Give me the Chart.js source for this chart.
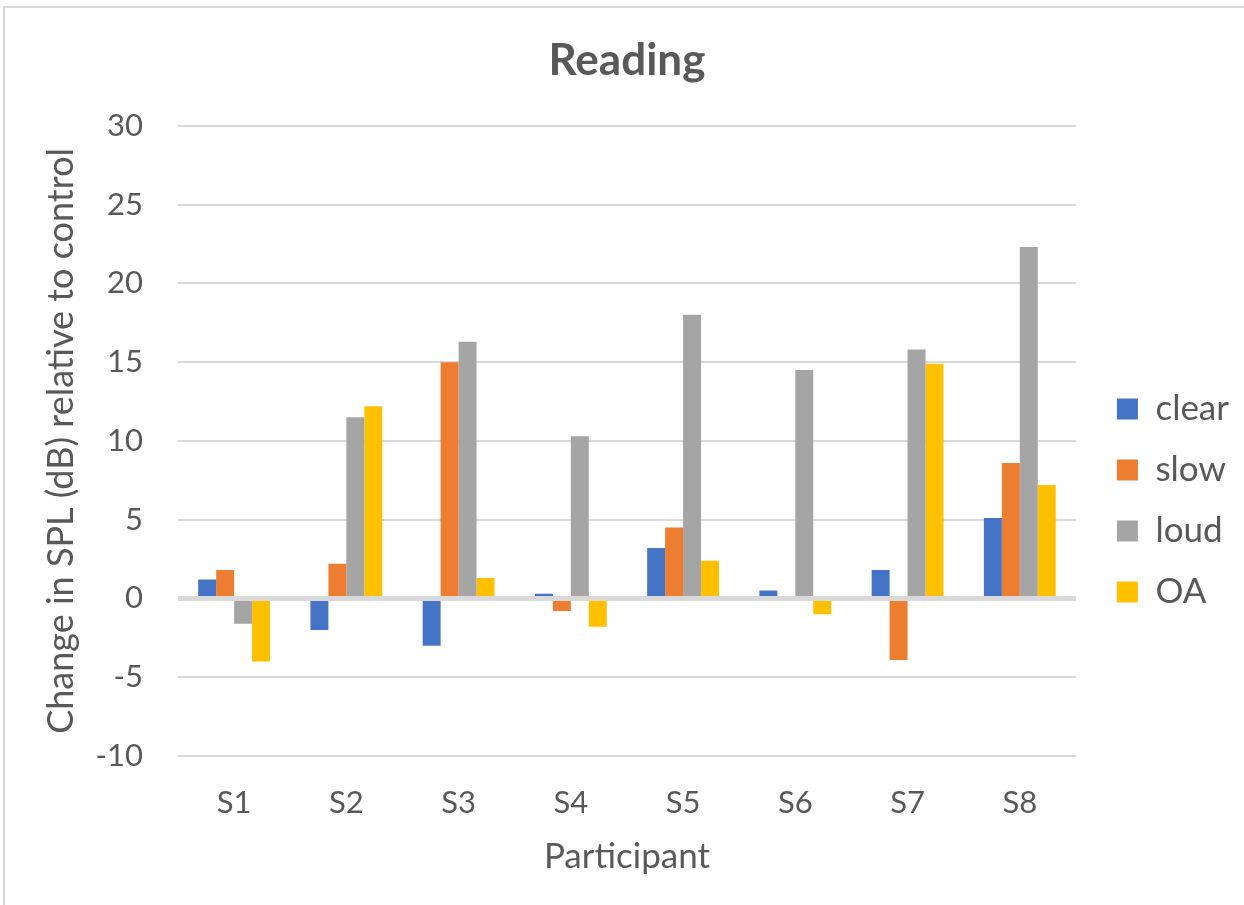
<!DOCTYPE html>
<html>
<head>
<meta charset="utf-8">
<script src="https://cdn.jsdelivr.net/npm/chart.js@4.4.1/dist/chart.umd.min.js"></script>
<style>
  html, body { margin: 0; padding: 0; background: #fff; }
  #wrap { width: 1244px; height: 905px; }
</style>
</head>
<body>
<div id="wrap"><canvas id="readingChart" width="1244" height="905"></canvas></div>
<script>
// Data
const participants = ["S1", "S2", "S3", "S4", "S5", "S6", "S7", "S8"];
const clear = [1.2, -2.0, -3.0, 0.3, 3.2, 0.5, 1.8, 5.1];
const slow = [1.8, 2.2, 15.0, -0.8, 4.5, 0, -3.9, 8.6];
const loud = [-1.6, 11.5, 16.3, 10.3, 18.0, 14.5, 15.8, 22.3];
const oa = [-4.0, 12.2, 1.3, -1.8, 2.4, -1.0, 14.9, 7.2];
const yTicks = [-10, -5, 0, 5, 10, 15, 20, 25, 30];

const textGrey = "#595959";
const gridGrey = "#d9d9d9";
Chart.defaults.font.family = "Lato, 'Open Sans', sans-serif";
Chart.defaults.color = textGrey;

// light frame round the whole chart, like the Excel chart border
const chartFrame = {
    id: "chartFrame",
    beforeDraw(chart) {
        const c = chart.ctx;
        c.save();
        c.fillStyle = "#fff";
        c.fillRect(0, 0, chart.width, chart.height);
        c.strokeStyle = gridGrey;
        c.lineWidth = 2;
        c.strokeRect(4, 7, chart.width + 20, chart.height + 20);
        c.restore();
    },
};

// push the legend a bit right and down to sit where Excel puts it
const legendNudge = {
    id: "legendNudge",
    afterLayout(chart) {
        const lg = chart.legend;
        lg.left += 15; lg.right += 15;
        lg.top += 53; lg.bottom += 53;
    },
};

const ctx = document.getElementById("readingChart").getContext("2d");
new Chart(ctx, {
    type: "bar",
    data: {
        labels: participants,
        datasets: [
            { label: "clear", data: clear, backgroundColor: "#4472C4" },
            { label: "slow", data: slow, backgroundColor: "#ED7D31" },
            { label: "loud", data: loud, backgroundColor: "#A5A5A5" },
            { label: "OA", data: oa, backgroundColor: "#FFC000" },
        ],
    },
    options: {
        responsive: false,
        animation: false,
        layout: { padding: { left: 26, right: 20, top: 0, bottom: 10 } },
        datasets: {
            bar: { categoryPercentage: 0.64, barPercentage: 1.0 },
        },
        plugins: {
            title: {
                display: true,
                fullSize: false,
                text: "Reading",
                color: textGrey,
                font: { size: 44, weight: "bold" },
                padding: { top: 34, bottom: 39 },
            },
            legend: {
                position: "right",
                labels: {
                    boxWidth: 21,
                    boxHeight: 21,
                    padding: 26,
                    color: textGrey,
                    font: { size: 35 },
                },
            },
            tooltip: { enabled: false },
        },
        scales: {
            x: {
                afterFit: (axis) => { axis.height = 139; },
                grid: { display: false },
                border: { display: false },
                ticks: { font: { size: 31 }, color: textGrey, padding: 20 },
                title: {
                    display: true,
                    text: "Participant",
                    color: textGrey,
                    font: { size: 35 },
                    padding: { top: 0, bottom: 17 },
                },
            },
            y: {
                min: -10,
                max: 30,
                afterBuildTicks: (axis) => {
                    axis.ticks = yTicks.map(v => ({ value: v }));
                },
                afterFit: (axis) => { axis.width = 152; },
                border: { display: false },
                grid: {
                    color: gridGrey,
                    lineWidth: (c) => (c.tick && c.tick.value === 0 ? 5 : 2),
                    drawTicks: false,
                },
                ticks: { font: { size: 31 }, color: textGrey, padding: 35 },
                title: {
                    display: true,
                    text: "Change in SPL (dB) relative to control",
                    color: textGrey,
                    font: { size: 36 },
                    padding: { top: 14, bottom: 0 },
                },
            },
        },
    },
    plugins: [chartFrame, legendNudge],
});
</script>
</body>
</html>
